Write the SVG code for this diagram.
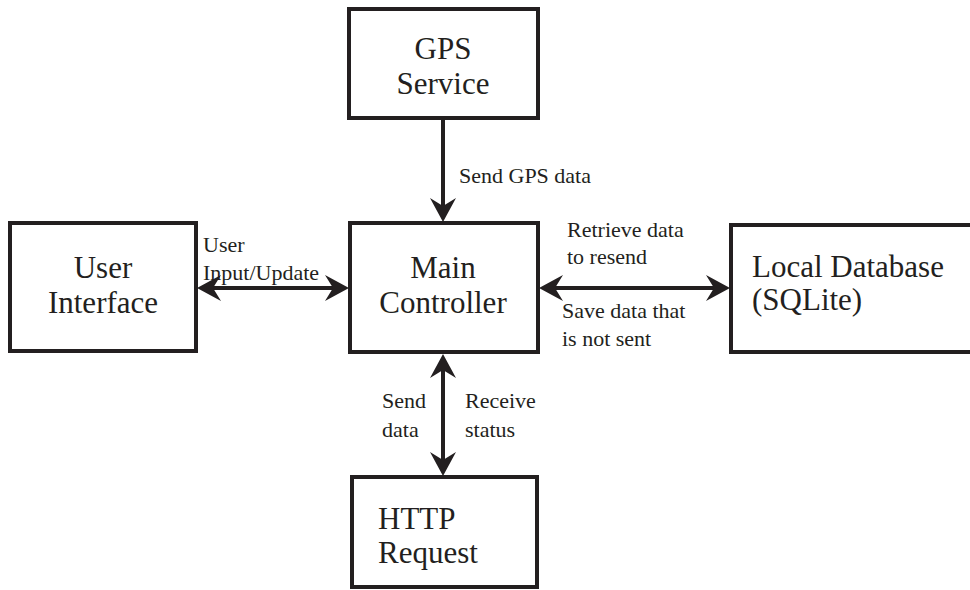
<svg xmlns="http://www.w3.org/2000/svg" width="970" height="590" viewBox="0 0 970 590">
<style>
.box{fill:#fff;stroke:#231f20;stroke-width:4}
.nt{font-size:31px;fill:#231f20}
.lt{font-size:22px;fill:#231f20}
.con{fill:none;stroke:#231f20;stroke-width:4}
</style>
<defs>
<marker id="ah" markerUnits="userSpaceOnUse" viewBox="0 0 24 26" refX="16" refY="13" markerWidth="24" markerHeight="26" orient="auto-start-reverse">
<path d="M0,0 L24,13 L0,26 L8,13 Z" fill="#231f20"/>
</marker>
</defs>
<rect width="970" height="590" fill="#fff"/>
<g id="connectors" font-family="Liberation Serif, DejaVu Serif, serif">
<path class="con" d="M443,118 V214" marker-end="url(#ah)"/>
<path class="con" d="M205,288 H341" marker-start="url(#ah)" marker-end="url(#ah)"/>
<path class="con" d="M547,288 H722" marker-start="url(#ah)" marker-end="url(#ah)"/>
<path class="con" d="M443,362 V468" marker-start="url(#ah)" marker-end="url(#ah)"/>
<text class="lt" x="459" y="183">Send GPS data</text>
<text class="lt" x="203" y="252">User</text>
<text class="lt" x="203" y="280">Input/Update</text>
<text class="lt" x="567" y="237">Retrieve data</text>
<text class="lt" x="567" y="264">to resend</text>
<text class="lt" x="562" y="318">Save data that</text>
<text class="lt" x="562" y="346">is not sent</text>
<text class="lt" x="382" y="408">Send</text>
<text class="lt" x="382" y="437">data</text>
<text class="lt" x="465" y="408">Receive</text>
<text class="lt" x="465" y="437">status</text>
</g>
<g id="gps" font-family="Liberation Serif, DejaVu Serif, serif">
<rect class="box" x="349" y="9" width="189" height="109"/>
<text class="nt" x="443" y="59" text-anchor="middle">GPS</text>
<text class="nt" x="443" y="94" text-anchor="middle">Service</text>
</g>
<g id="main" font-family="Liberation Serif, DejaVu Serif, serif">
<rect class="box" x="350" y="223" width="188" height="129"/>
<text class="nt" x="443" y="278" text-anchor="middle">Main</text>
<text class="nt" x="443" y="313" text-anchor="middle">Controller</text>
</g>
<g id="ui" font-family="Liberation Serif, DejaVu Serif, serif">
<rect class="box" x="10" y="223" width="186" height="128"/>
<text class="nt" x="103" y="278" text-anchor="middle">User</text>
<text class="nt" x="103" y="313" text-anchor="middle">Interface</text>
</g>
<g id="db" font-family="Liberation Serif, DejaVu Serif, serif">
<rect class="box" x="731" y="225" width="260" height="127"/>
<text class="nt" x="752" y="277">Local Database</text>
<text class="nt" x="752" y="310">(SQLite)</text>
</g>
<g id="http" font-family="Liberation Serif, DejaVu Serif, serif">
<rect class="box" x="352" y="477" width="185" height="110"/>
<text class="nt" x="378" y="529">HTTP</text>
<text class="nt" x="378" y="563">Request</text>
</g>
</svg>
